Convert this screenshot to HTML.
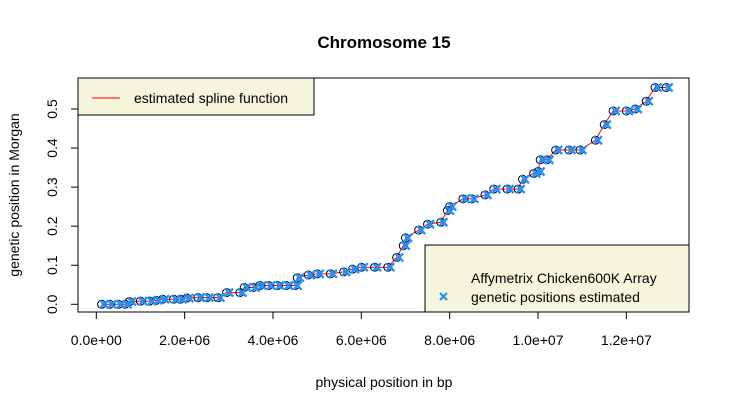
<!DOCTYPE html>
<html><head><meta charset="utf-8"><style>
body{margin:0;background:#fff}
svg{display:block;font-family:"Liberation Sans",Arial,sans-serif}
</style></head><body>
<svg id="chart" width="730" height="411">
<text x="384" y="48" font-size="17" font-weight="bold" text-anchor="middle">Chromosome 15</text>
<text x="384" y="387" font-size="14" text-anchor="middle">physical position in bp</text>
<text transform="translate(19,195) rotate(-90)" font-size="14" text-anchor="middle">genetic position in Morgan</text>
<g id="axes"></g><g id="marks"></g>
<rect x="78" y="78" width="611" height="234" fill="none" stroke="#000"/>
<g>
<rect x="78" y="78" width="236" height="37" fill="#f5f5dc" stroke="#000"/>
<line x1="92" y1="98" x2="120" y2="98" stroke="red"/>
<text x="134" y="103" font-size="14">estimated spline function</text>
</g>
<g>
<rect x="425" y="245" width="264" height="67" fill="#f5f5dc" stroke="#000"/>
<text x="471" y="283" font-size="14">Affymetrix Chicken600K Array</text>
<text x="471" y="302" font-size="14">genetic positions estimated</text>
<path d="M440 293 l7 7 M447 293 l-7 7" stroke="#1e90ff" stroke-width="2.2"/>
</g>
</svg>
<script>
const xTicks=[0,2e6,4e6,6e6,8e6,1e7,1.2e7];
const xTickLabels=["0.0e+00","2.0e+06","4.0e+06","6.0e+06","8.0e+06","1.0e+07","1.2e+07"];
const yTicks=[0,0.1,0.2,0.3,0.4,0.5];
const yTickLabels=["0.0","0.1","0.2","0.3","0.4","0.5"];
const posMb=[0.12,0.3,0.5,0.65,0.75,1.0,1.2,1.35,1.5,1.75,1.9,2.05,2.3,2.5,2.75,2.95,3.25,3.35,3.55,3.7,3.9,4.1,4.3,4.5,4.55,4.8,5.0,5.3,5.6,5.8,6.0,6.3,6.6,6.8,6.95,7.0,7.3,7.5,7.8,7.95,8.0,8.3,8.5,8.8,9.0,9.3,9.55,9.65,9.9,10.0,10.05,10.2,10.4,10.7,10.95,11.3,11.5,11.7,12.0,12.2,12.45,12.65,12.9];
const genPos=[0,0,0,0,0.007,0.008,0.008,0.01,0.013,0.013,0.013,0.016,0.017,0.017,0.017,0.03,0.03,0.043,0.043,0.048,0.048,0.048,0.048,0.048,0.068,0.075,0.078,0.078,0.083,0.09,0.095,0.095,0.095,0.12,0.15,0.17,0.19,0.205,0.21,0.24,0.25,0.27,0.27,0.28,0.295,0.295,0.295,0.32,0.335,0.34,0.37,0.37,0.395,0.395,0.395,0.42,0.46,0.495,0.495,0.5,0.52,0.555,0.555];
const NS="http://www.w3.org/2000/svg";
const X=v=>96.3+v/1e6*44.17;
const Y=v=>304.3-v*390.6;
const axes=document.getElementById('axes'),marks=document.getElementById('marks');
function mk(tag,at,par){const e=document.createElementNS(NS,tag);for(const k in at)e.setAttribute(k,at[k]);par.appendChild(e);return e;}
mk('line',{x1:X(0),x2:X(1.2e7),y1:312,y2:312,stroke:'#000'},axes);
xTicks.forEach((t,i)=>{
 const l=mk('line',{x1:X(t),x2:X(t),y1:312,y2:319,stroke:'#000'},axes);
 
 
 const tx=mk('text',{x:X(t),y:345,'font-size':14,'text-anchor':'middle'},axes);tx.textContent=xTickLabels[i];
 
 
});
mk('line',{x1:78,x2:78,y1:Y(0),y2:Y(0.5),stroke:'#000'},axes);
yTicks.forEach((t,i)=>{
 const l=mk('line',{x1:71,x2:78,y1:Y(t),y2:Y(t),stroke:'#000'},axes);
 
 
 const tx=mk('text',{transform:`translate(57,${Y(t)}) rotate(-90)`,'font-size':14,'text-anchor':'middle'},axes);tx.textContent=yTickLabels[i];
 
 
});
const pl=mk('polyline',{points:posMb.map((p,i)=>X(p*1e6)+','+Y(genPos[i])).join(' '),fill:'none',stroke:'red','stroke-width':1},marks);


posMb.forEach((p,i)=>{
 const c=mk('circle',{cx:X(p*1e6),cy:Y(genPos[i]),r:4,fill:'none',stroke:'#000'},marks);
 
 
});
posMb.forEach((p,i)=>{
 const x=X(p*1e6)+2.5,y=Y(genPos[i]);
 const c=mk('path',{d:`M${x-4} ${y-4} l8 8 M${x+4} ${y-4} l-8 8`,stroke:'#1e90ff','stroke-width':2.4},marks);
 
 
});
</script>
</body></html>
